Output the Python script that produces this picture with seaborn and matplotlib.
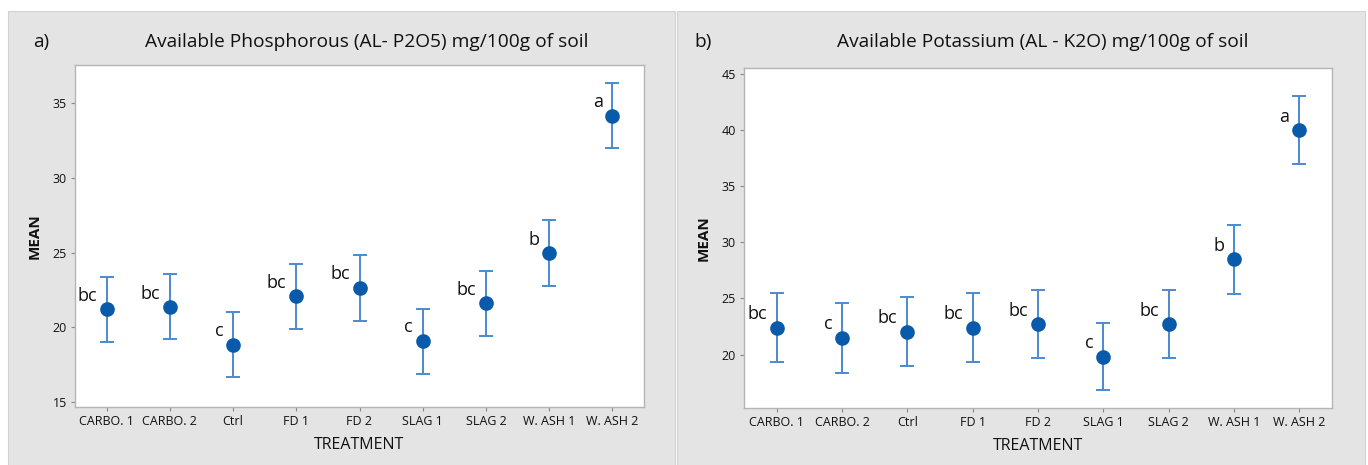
import numpy as np
import pandas as pd
import matplotlib
matplotlib.use("Agg")
import matplotlib.pyplot as plt
import seaborn as sns
from matplotlib.patches import Rectangle

# Datos
treatments = ["CARBO. 1", "CARBO. 2", "Ctrl", "FD 1", "FD 2", "SLAG 1", "SLAG 2", "W. ASH 1", "W. ASH 2"]

p_mean = [21.2, 21.35, 18.85, 22.1, 22.65, 19.1, 21.6, 24.95, 34.15]
p_low = [19.0, 19.25, 16.7, 19.9, 20.45, 16.9, 19.4, 22.75, 32.0]
p_high = [23.4, 23.55, 21.0, 24.25, 24.85, 21.25, 23.8, 27.15, 36.35]
p_letters = ["bc", "bc", "c", "bc", "bc", "c", "bc", "b", "a"]

k_mean = [22.4, 21.5, 22.05, 22.4, 22.7, 19.8, 22.7, 28.5, 40.0]
k_low = [19.35, 18.4, 19.0, 19.35, 19.65, 16.8, 19.65, 25.4, 36.95]
k_high = [25.45, 24.55, 25.15, 25.45, 25.75, 22.85, 25.75, 31.55, 43.0]
k_letters = ["bc", "c", "bc", "bc", "bc", "c", "bc", "b", "a"]

sns.set_theme(style="white")
plt.rcParams["font.family"] = ["Open Sans", "DejaVu Sans"]

fig = plt.figure(figsize=(13.68, 4.65), dpi=100)
fig.patch.set_facecolor("white")

# Fondos grises de cada panel (en un eje de fondo)
bg = fig.add_axes([0, 0, 1, 1], zorder=-10)
bg.set_axis_off()
bg.set_xlim(0, 1368)
bg.set_ylim(465, 0)
bg.add_patch(Rectangle((8, 11), 667, 460, facecolor="#e4e4e4", edgecolor="#d2d2d2", lw=0.8))
bg.add_patch(Rectangle((677, 11), 688, 460, facecolor="#e4e4e4", edgecolor="#d2d2d2", lw=0.8))

dot_color = "#0a5aab"
bar_color = "#4a8ad0"


def panel(rect, means, low, high, letters, ylim, yticks, title, tag, tagx, titlex):
    ax = fig.add_axes(rect)
    df = pd.DataFrame({"TREATMENT": treatments, "MEAN": means})
    x = np.arange(len(treatments))
    m = np.array(means)
    yerr = [m - np.array(low), np.array(high) - m]
    ax.errorbar(x, m, yerr=yerr, fmt="none", ecolor=bar_color, elinewidth=1.4,
                capsize=5, capthick=1.4, zorder=2)
    sns.pointplot(data=df, x="TREATMENT", y="MEAN", linestyle="none", markers="o",
                  color=dot_color, markersize=8.5, errorbar=None, ax=ax, zorder=3)
    for xi, yi, lab in zip(x, m, letters):
        ax.annotate(lab, (xi, yi), xytext=(-7, 6), textcoords="offset points",
                    ha="right", va="baseline", fontsize=13, color="#111111")
    ax.set_xlim(-0.5, len(treatments) - 0.5)
    ax.set_ylim(*ylim)
    ax.set_yticks(yticks)
    ax.set_facecolor("white")
    for s in ax.spines.values():
        s.set_color("#b4b4b4")
        s.set_linewidth(1.0)
    ax.tick_params(axis="both", which="both", length=3, width=0.8, color="#888888",
                   labelsize=9, pad=3, bottom=True, left=True, labelcolor="#111111")
    ax.set_xlabel("TREATMENT", fontsize=11.5, labelpad=6, color="#111111")
    ax.set_ylabel("MEAN", fontsize=11, fontweight="bold", labelpad=8, color="#111111")
    fig.text(titlex, 1 - 42 / 465, title, ha="center", va="center", fontsize=13.8, color="#111111")
    fig.text(tagx, 1 - 42 / 465, tag, ha="left", va="center", fontsize=13.8, color="#111111")
    return ax


panel([75 / 1368, 1 - 407 / 465, 569 / 1368, 342 / 465], p_mean, p_low, p_high, p_letters,
      (14.67, 37.55), [15, 20, 25, 30, 35],
      "Available Phosphorous (AL- P2O5) mg/100g of soil", "a)", 33 / 1368, 367 / 1368)
panel([744 / 1368, 1 - 408 / 465, 588 / 1368, 340 / 465], k_mean, k_low, k_high, k_letters,
      (15.24, 45.53), [20, 25, 30, 35, 40, 45],
      "Available Potassium (AL - K2O) mg/100g of soil", "b)", 694 / 1368, 1043 / 1368)

fig.savefig("out.png", dpi=100)
